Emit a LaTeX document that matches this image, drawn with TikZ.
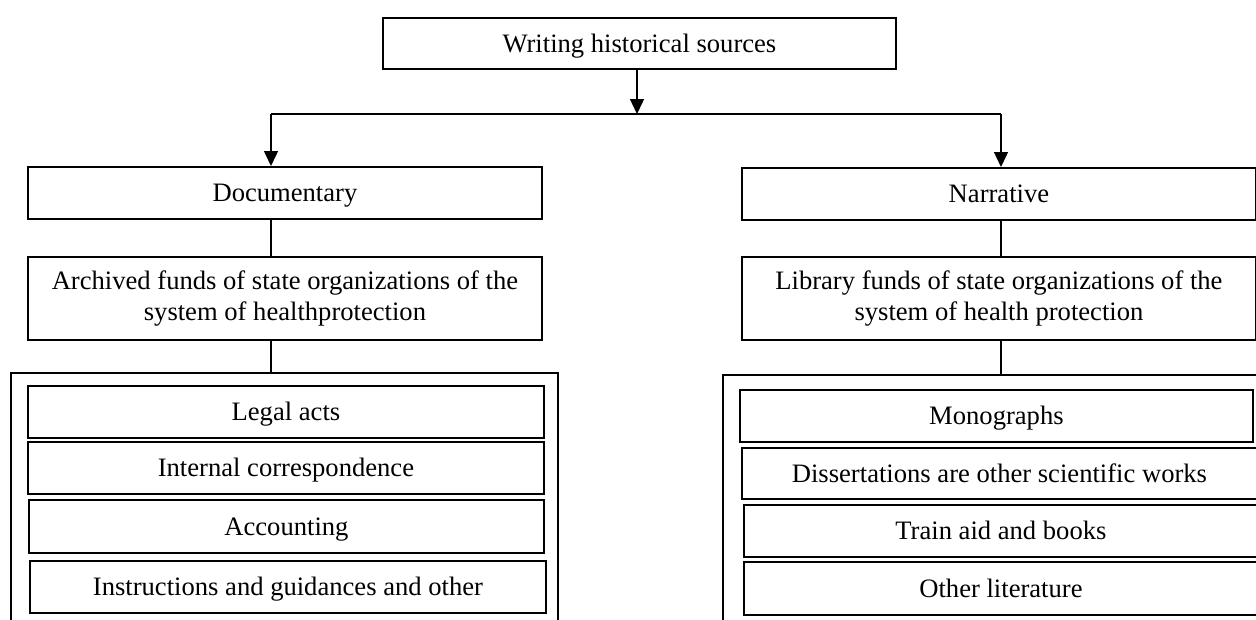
\documentclass[tikz,border=0pt]{standalone}
\usepackage{fontspec}
\setmainfont{Liberation Serif}
\usetikzlibrary{arrows.meta}
\tikzset{
  mbox/.style={draw, line width=1.9pt, rectangle, inner sep=0pt, align=center,
    anchor=north west, font=\fontsize{26.6}{30.5}\selectfont},
  box/.style={mbox, text height=24pt, text depth=6pt},
  grp/.style={draw, line width=1.9pt, rectangle, inner sep=0pt, anchor=north west},
  conn/.style={line width=1.4pt},
  arr/.style={conn, -{Triangle[length=15pt,width=14pt]}}
}
\begin{document}
\begin{tikzpicture}[x=1pt,y=-1pt]
\useasboundingbox (0,0) rectangle (1256,619);
\clip (0,0) rectangle (1256,619);
% top
\node[box, minimum width=513pt, minimum height=51pt] (top) at (382,17) {Writing historical sources};
\node[box, minimum width=514pt, minimum height=52pt] (doc) at (27,166) {Documentary};
\node[box, minimum width=514pt, minimum height=52pt] (nar) at (741,167) {Narrative};
\node[mbox, minimum width=514pt, minimum height=83pt] (arch) at (27,256) {Archived funds of state organizations of the\\system of healthprotection};
\node[mbox, minimum width=514pt, minimum height=83pt] (lib) at (741,256) {Library funds of state organizations of the\\system of health protection};
% groups
\node[grp, minimum width=547pt, minimum height=300pt] (lgrp) at (10,372) {};
\node[grp, minimum width=560pt, minimum height=300pt] (rgrp) at (722,374) {};
% left items
\node[box, minimum width=516pt, minimum height=52pt] (legal) at (27,385) {Legal acts};
\node[box, minimum width=516pt, minimum height=52pt] (intc) at (27,441) {Internal correspondence};
\node[box, minimum width=515pt, minimum height=53pt] (acc) at (28,499) {Accounting};
\node[box, minimum width=516pt, minimum height=52pt] (instr) at (29,560) {Instructions and guidances and other};
% right items
\node[box, minimum width=513pt, minimum height=52pt] (mono) at (739,389) {Monographs};
\node[box, minimum width=515pt, minimum height=51pt] (diss) at (741,447) {Dissertations are other scientific works};
\node[box, minimum width=514pt, minimum height=52pt] (train) at (743,504) {Train aid and books};
\node[box, minimum width=514pt, minimum height=53pt] (other) at (743,561) {Other literature};
% connectors
\coordinate (j) at (637,114);
\coordinate (jl) at (271,114);
\coordinate (jr) at (1001,114);
\draw[arr] (top.south -| j) -- (j);
\draw[conn] (jl) -- (jr);
\draw[arr] (jl) -- (doc.north -| jl);
\draw[arr] (jr) -- (nar.north -| jr);
\draw[conn] (doc.south -| jl) -- (arch.north -| jl);
\draw[conn] (arch.south -| jl) -- (lgrp.north -| jl);
\draw[conn] (nar.south -| jr) -- (lib.north -| jr);
\draw[conn] (lib.south -| jr) -- (rgrp.north -| jr);
\end{tikzpicture}
\end{document}
